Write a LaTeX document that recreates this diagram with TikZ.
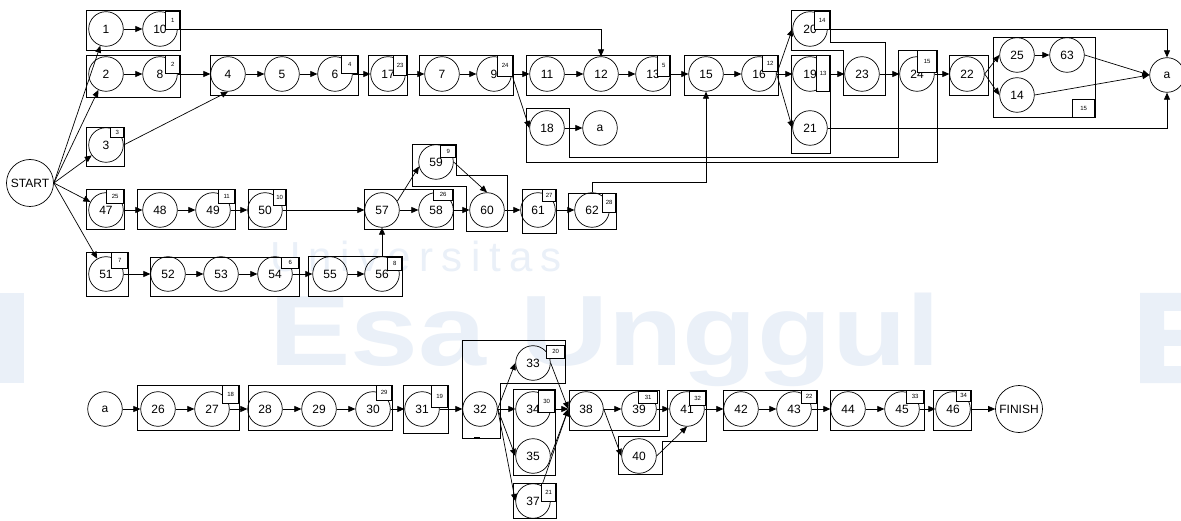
\documentclass[tikz,border=0pt]{standalone}
\usepackage{fontspec}
\setmainfont{Liberation Sans}
\usetikzlibrary{arrows.meta}
\definecolor{Wmark}{HTML}{EAF0F8}

\begin{document}
\begin{tikzpicture}[x=1pt,y=-1pt,every node/.style={font=\fontsize{12}{14}\selectfont},act/.style={draw,circle,minimum size=34.6pt,inner sep=0pt,line width=.7pt},big/.style={draw,circle,minimum size=47pt,inner sep=0pt,line width=.7pt},grp/.style={draw,line width=.8pt},tag/.style={draw,fill=white,line width=.6pt,inner sep=0pt,anchor=north east,font=\fontsize{6}{7}\selectfont,minimum width=14pt,minimum height=#1},tag/.default=18pt,arr/.style={-{Triangle[length=7pt,width=6pt]},line width=.7pt}]
\useasboundingbox (0,0) rectangle (1181,521);
\fill[white] (0,0) rectangle (1181,521);
% watermark
\node[text=Wmark,inner sep=0pt,font=\fontsize{42}{42}\selectfont\addfontfeatures{LetterSpace=20}] (wm1) at (416,256) {Universitas};
\node[text=Wmark,inner sep=0pt,font=\bfseries\fontsize{100}{100}\selectfont,xscale=1.22] (wm2) at (605,340) {Esa Unggul};
\fill[Wmark] (0,293) rectangle (24,383);
\fill[Wmark] (1140,293) rectangle (1181,311) (1140,311) rectangle (1164,366) (1164,330) rectangle (1181,346) (1140,366) rectangle (1181,383);
% top part
\node[big] (start) at (30,183) {START};
\node[act] (n1) at (106,29) {1}; \node[act] (n10) at (160,29) {10};
\node[act] (n2) at (106,74) {2}; \node[act] (n8) at (160,74) {8};
\node[act] (n4) at (228,74) {4}; \node[act] (n5) at (282,74) {5}; \node[act] (n6) at (335,74) {6};
\node[act] (n17) at (388,74) {17};
\node[act] (n7) at (442,74) {7}; \node[act] (n9) at (494,74) {9};
\node[act] (n11) at (547,74) {11}; \node[act] (n12) at (601,74) {12}; \node[act] (n13) at (653,74) {13};
\node[act] (n15) at (706,74) {15}; \node[act] (n16) at (759,74) {16};
\node[act] (n20) at (810,29) {20}; \node[act] (n19) at (810,74) {19}; \node[act] (n21) at (810,128) {21};
\node[act] (n23) at (862,74) {23}; \node[act] (n24) at (917,74) {24}; \node[act] (n22) at (967,74) {22};
\node[act] (n25) at (1017,55) {25}; \node[act] (n63) at (1067,55) {63}; \node[act] (n14) at (1017,95) {14};
\node[act] (aR) at (1167,75) {a};
\node[act] (n18) at (547,128) {18}; \node[act] (aM) at (600,128) {a};
\node[act] (n3) at (106,145) {3};
\node[act] (n47) at (106,210) {47}; \node[act] (n48) at (160,210) {48}; \node[act] (n49) at (213,210) {49}; \node[act] (n50) at (265,210) {50};
\node[act] (n57) at (382,210) {57}; \node[act] (n58) at (436,210) {58}; \node[act] (n59) at (436,162) {59};
\node[act] (n60) at (487,210) {60}; \node[act] (n61) at (538,210) {61}; \node[act] (n62) at (592,210) {62};
\node[act] (n51) at (106,274) {51}; \node[act] (n52) at (168,274) {52}; \node[act] (n53) at (221,274) {53};
\node[act] (n54) at (275,274) {54}; \node[act] (n55) at (330,274) {55}; \node[act] (n56) at (382,274) {56};
% bottom part
\node[act] (aL) at (105,409) {a}; \node[act] (n26) at (158,409) {26}; \node[act] (n27) at (212,409) {27};
\node[act] (n28) at (265,409) {28}; \node[act] (n29) at (319,409) {29}; \node[act] (n30) at (373,409) {30};
\node[act] (n31) at (422,409) {31}; \node[act] (n32) at (480,409) {32};
\node[act] (n33) at (533,363) {33}; \node[act] (n34) at (533,409) {34}; \node[act] (n35) at (533,456) {35}; \node[act] (n37) at (533,501) {37};
\node[act] (n38) at (586,409) {38}; \node[act] (n39) at (639,409) {39}; \node[act] (n40) at (639,456) {40}; \node[act] (n41) at (687,409) {41};
\node[act] (n42) at (741,409) {42}; \node[act] (n43) at (794,409) {43}; \node[act] (n44) at (848,409) {44}; \node[act] (n45) at (902,409) {45};
\node[act] (n46) at (953,409) {46}; \node[big] (finish) at (1019,409) {FINISH};
% groups
\draw[grp] (86,10) rectangle (180,50); \draw[grp] (86,55) rectangle (180,97);
\draw[grp] (210,55) rectangle (358,95); \draw[grp] (368,55) rectangle (407,95);
\draw[grp] (419,55) rectangle (513,95); \draw[grp] (526,55) rectangle (670,95);
\draw[grp] (684,55) rectangle (778,95); \draw[grp] (791,55) rectangle (830,153);
\draw[grp] (791,10) -- (830,10) -- (830,42) -- (885,42) -- (885,95) -- (843,95) -- (843,50) -- (791,50) -- cycle;
\draw[grp] (526,108) -- (569,108) -- (569,157) -- (898,157) -- (898,50) -- (937,50) -- (937,162) -- (526,162) -- cycle;
\draw[grp] (949,55) rectangle (988,95); \draw[grp] (993,37) rectangle (1095,117);
\draw[grp] (86,127) rectangle (124,166);
\draw[grp] (86,189) rectangle (124,229); \draw[grp] (137,189) rectangle (235,229); \draw[grp] (248,189) rectangle (286,229);
\draw[grp] (364,189) rectangle (453,229);
\draw[grp] (412,144) -- (456,144) -- (456,175) -- (507,175) -- (507,231) -- (466,231) -- (466,186) -- (412,186) -- cycle;
\draw[grp] (522,189) rectangle (556,233); \draw[grp] (568,193) rectangle (616,229);
\draw[grp] (86,252) rectangle (128,296); \draw[grp] (150,257) rectangle (299,296); \draw[grp] (308,256) rectangle (402,296);
\draw[grp] (137,385) rectangle (239,430); \draw[grp] (248,385) rectangle (392,430); \draw[grp] (403,385) rectangle (448,433);
\draw[grp] (462,340) -- (565,340) -- (565,383) -- (500,383) -- (500,438) -- (462,438) -- cycle;
\draw[line width=2pt] (474,438) -- (480,438);
\draw[grp] (513,389) rectangle (555,475); \draw[grp] (513,483) rectangle (556,518);
\draw[grp] (569,390) rectangle (659,430);
\draw[grp] (618,474) -- (618,436) -- (667,436) -- (667,390) -- (706,390) -- (706,441) -- (662,441) -- (662,474) -- cycle;
\draw[grp] (723,390) rectangle (817,430); \draw[grp] (830,390) rectangle (924,430); \draw[grp] (933,390) rectangle (971,430);
% connectors
\draw[arr] (start.east)--(n1); \draw[arr] (start.east)--(n2); \draw[arr] (start.east)--(n3); \draw[arr] (start.east)--(n47); \draw[arr] (start.east)--(n51);
\draw[arr] (n1)--(n10); \draw[arr] (n10.east) -| (n12.north);
\draw[arr] (n2)--(n8); \draw[arr] (n8)--(n4); \draw[arr] (n3.east)--(n4.south);
\draw[arr] (n4)--(n5); \draw[arr] (n5)--(n6); \draw[arr] (n6)--(n17); \draw[arr] (n17)--(n7); \draw[arr] (n7)--(n9);
\draw[arr] (n9)--(n11); \draw[arr] (n9.east)--(n18.west); \draw[arr] (n18)--(aM);
\draw[arr] (n11)--(n12); \draw[arr] (n12)--(n13); \draw[arr] (n13)--(n15); \draw[arr] (n15)--(n16);
\draw[arr] (n16.east)--(n20.west); \draw[arr] (n16.east)--(n19.west); \draw[arr] (n16.east)--(n21.west);
\draw[arr] (n19)--(n23); \draw[arr] (n23)--(n24); \draw[arr] (n24)--(n22);
\draw[arr] (n22.east)--(n25.west); \draw[arr] (n22.east)--(n14.west); \draw[arr] (n25)--(n63);
\draw[arr] (n63.east)--(aR.west); \draw[arr] (n14.east)--(aR.west);
\draw[arr] (n20.east) -| (aR.north); \draw[arr] (n21.east) -| (aR.south);
\draw[arr] (n47)--(n48); \draw[arr] (n48)--(n49); \draw[arr] (n49)--(n50); \draw[arr] (n50)--(n57);
\draw[arr] (n51)--(n52); \draw[arr] (n52)--(n53); \draw[arr] (n53)--(n54); \draw[arr] (n54)--(n55); \draw[arr] (n55)--(n56); \draw[arr] (n56)--(n57);
\draw[arr] (n57)--(n58); \draw[arr] (n57.30)--(n59.195); \draw[arr] (n58)--(n60); \draw[arr] (n59.east)--(n60.north);
\draw[arr] (n60)--(n61); \draw[arr] (n61)--(n62); \draw[arr] (n62.north) -- ++(0,-10) -| (n15.south);
\draw[arr] (aL)--(n26); \draw[arr] (n26)--(n27); \draw[arr] (n27)--(n28); \draw[arr] (n28)--(n29); \draw[arr] (n29)--(n30);
\draw[arr] (n30)--(n31); \draw[arr] (n31)--(n32);
\draw[arr] (n32.east)--(n33.west); \draw[arr] (n32.east)--(n34.west); \draw[arr] (n32.east)--(n35.west); \draw[arr] (n32.east)--(n37.west);
\draw[arr] (n33.east)--(n38.west); \draw[arr] (n34.east)--(n38.west); \draw[arr] (n35.east)--(n38.west); \draw[arr] (n37.60)--(n38.west);
\draw[arr] (n38)--(n39); \draw[arr] (n38.east)--(n40.west); \draw[arr] (n39)--(n41); \draw[arr] (n40.east)--(n41.south);
\draw[arr] (n41)--(n42); \draw[arr] (n42)--(n43); \draw[arr] (n43)--(n44); \draw[arr] (n44)--(n45); \draw[arr] (n45)--(n46); \draw[arr] (n46)--(finish);
% tags
\node[tag] (t1) at (180,11) {1}; \node[tag] (t2) at (180,55) {2}; \node[tag=10pt,minimum width=13pt] (t3) at (124,127) {3};
\node[tag,minimum width=16pt] (t4) at (358,55) {4}; \node[tag=20pt,minimum width=13pt] (t23) at (407,55) {23};
\node[tag=21pt,minimum width=15pt] (t24) at (513,55) {24}; \node[tag=21pt,minimum width=12pt] (t5) at (670,55) {5};
\node[tag=16pt,minimum width=15pt] (t12) at (778,55) {12}; \node[tag=36pt,minimum width=13pt] (t13) at (830,55) {13};
\node[tag,minimum width=15pt] (t14) at (830,11) {14}; \node[tag=22pt,minimum width=19pt] (t15a) at (937,50) {15};
\node[tag,minimum width=22pt] (t15b) at (1095,99) {15};
\node[tag=14pt,minimum width=17pt] (t25) at (124,189) {25}; \node[tag=14pt,minimum width=16pt] (t11) at (235,189) {11};
\node[tag=16pt,minimum width=12pt] (t10) at (286,189) {10}; \node[tag=16pt,minimum width=16pt] (t7) at (128,252) {7};
\node[tag=11pt,minimum width=17pt] (t6) at (299,257) {6}; \node[tag=13pt] (t8) at (402,257) {8};
\node[tag=11pt,minimum width=19pt] (t26) at (453,189) {26}; \node[tag=12pt,minimum width=15pt] (t9) at (456,145) {9};
\node[tag=12pt,minimum width=13pt] (t27) at (556,189) {27}; \node[tag=19pt,minimum width=13pt] (t28) at (616,193) {28};
\node[tag,minimum width=16pt] (t18) at (239,385) {18}; \node[tag=15pt,minimum width=15pt] (t29) at (392,385) {29};
\node[tag=22pt,minimum width=16pt] (t19) at (448,385) {19}; \node[tag=13pt,minimum width=18pt] (t20) at (565,345) {20};
\node[tag=22pt,minimum width=16pt] (t30) at (555,390) {30}; \node[tag] (t21) at (556,483) {21};
\node[tag=12pt,minimum width=19pt] (t31) at (658,391) {31}; \node[tag=14pt,minimum width=16pt] (t32) at (706,391) {32};
\node[tag=13pt,minimum width=15pt] (t22) at (817,390) {22}; \node[tag=13pt,minimum width=17pt] (t33) at (924,390) {33};
\node[tag=11pt] (t34) at (971,390) {34};
\end{tikzpicture}
\end{document}
